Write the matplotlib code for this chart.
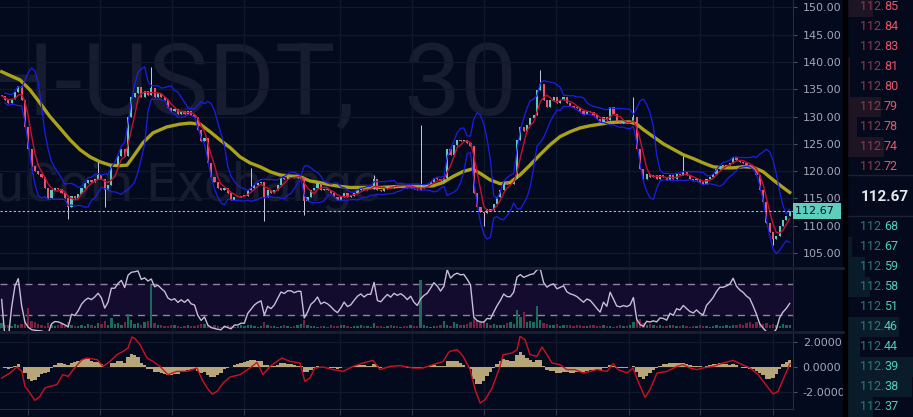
import matplotlib.pyplot as plt
import matplotlib.transforms as mtransforms
from matplotlib.lines import Line2D
from matplotlib.patches import Rectangle
import numpy as np
import pandas as pd

# 30 minute closes from left to right
close_a = [133.8, 133.0, 132.5, 133.2, 134.5, 135.5, 133.0, 128.0, 124.0, 121.0,
           120.0, 119.5, 119.0, 117.0, 115.0, 116.6, 117.0, 116.8, 116.0, 115.0,
           113.5, 115.5, 115.0, 115.8, 117.0, 117.8, 118.3, 118.0, 118.5, 119.2,
           118.5, 116.5, 117.5, 121.0, 121.0, 122.7, 124.0, 122.8, 130.0, 133.5,
           134.3, 135.4, 133.5, 134.7, 134.0, 135.3, 133.6, 134.3, 133.6, 133.0,
           131.5, 131.0, 131.3, 130.5, 131.0, 130.5, 131.0, 130.2, 130.0, 127.5]
close_b = [125.5, 126.0, 121.5, 119.0, 118.0, 117.0, 116.5, 117.0, 116.0, 114.8,
           115.3, 115.3, 115.5, 115.5, 116.5, 117.0, 117.5, 117.8, 118.0, 115.3,
           116.5, 116.0, 116.5, 117.5, 118.7, 118.5, 119.0, 119.0, 118.8, 119.0,
           119.0, 114.5, 115.3, 116.5, 117.0, 117.8, 116.5, 116.8, 116.5, 116.0,
           115.3, 114.8, 115.3, 116.0, 115.3, 115.5, 116.0, 116.5, 116.8, 116.5,
           116.8, 116.8, 118.5, 116.5, 116.3, 116.8, 117.3, 117.0, 117.5, 117.3]
close_c = [117.5, 117.3, 117.0, 117.3, 116.8, 116.5, 117.0, 117.3, 117.5, 118.0,
           118.7, 118.5, 118.2, 118.7, 124.0, 123.0, 124.7, 125.7, 125.5, 125.7,
           125.2, 124.6, 116.0, 113.5, 112.5, 112.3, 113.0, 112.8, 114.0, 115.3,
           116.5, 118.2, 117.6, 117.6, 118.7, 125.7, 128.0, 127.4, 128.5, 129.7,
           130.3, 134.8, 136.0, 133.0, 131.8, 133.0, 133.5, 132.4, 133.0, 133.6,
           132.4, 132.0, 131.8, 131.5, 131.0, 130.5, 131.0, 130.8, 130.2, 129.5]
close_d = [128.8, 130.0, 129.3, 131.7, 130.5, 129.0, 128.8, 129.0, 128.8, 129.0,
           130.0, 124.0, 120.3, 118.5, 119.5, 119.0, 119.2, 118.6, 119.2, 119.0,
           118.3, 119.2, 118.6, 119.5, 119.2, 119.8, 119.2, 118.6, 118.3, 118.6,
           118.0, 117.7, 118.6, 119.0, 119.5, 120.3, 121.0, 121.0, 121.2, 121.5,
           122.6, 122.0, 121.7, 121.5, 121.2, 121.0, 120.3, 119.2, 116.6, 114.3,
           110.5, 108.8, 107.6, 108.2, 110.0, 111.0, 111.7, 112.67]

# long wicks (candle number -> price)
high_spikes = {29: 121.7, 45: 139.0, 75: 120.5, 112: 119.3, 126: 128.5,
               162: 138.5, 190: 133.5, 205: 122.7}
low_spikes = {20: 111.3, 31: 113.5, 79: 110.8, 91: 112.0, 145: 110.0, 232: 106.5}

# volume in thousands
volume_k = [25, 18, 14, 12, 20, 16, 22, 35, 110, 40,
            30, 22, 18, 12, 26, 15, 10, 14, 20, 12,
            35, 18, 12, 10, 14, 12, 20, 16, 12, 28,
            22, 40, 14, 55, 20, 25, 16, 30, 78, 45,
            20, 25, 18, 30, 40, 230, 25, 15, 18, 12,
            10, 14, 18, 12, 8, 10, 16, 12, 10, 14,
            20, 24, 18, 12, 15, 10, 8, 12, 14, 10,
            8, 12, 16, 10, 14, 18, 12, 8, 10, 30,
            15, 10, 12, 8, 10, 14, 12, 8, 10, 16,
            20, 45, 18, 12, 10, 8, 12, 10, 8, 14,
            10, 12, 18, 14, 10, 8, 12, 10, 14, 12,
            10, 8, 25, 12, 10, 8, 10, 14, 12, 10,
            8, 10, 12, 14, 10, 12, 260, 15, 10, 8,
            12, 10, 14, 40, 18, 12, 30, 22, 18, 16,
            20, 35, 60, 45, 30, 40, 25, 18, 20, 15,
            14, 18, 25, 30, 20, 95, 60, 85, 30, 40,
            35, 120, 45, 25, 20, 18, 15, 22, 12, 15,
            18, 14, 12, 15, 18, 10, 12, 14, 16, 12,
            10, 14, 12, 10, 8, 12, 14, 10, 12, 18,
            30, 45, 50, 25, 18, 20, 15, 12, 14, 10,
            12, 15, 18, 10, 12, 14, 10, 8, 12, 10,
            14, 12, 10, 8, 12, 14, 10, 12, 16, 12,
            14, 18, 20, 15, 25, 30, 22, 35, 28, 20,
            25, 18, 22, 15, 12, 20, 14, 18]

# slow moving average (yellow)
slow_ma_idx = [0, 5.5, 8.5, 11.5, 14.5, 17.5, 20.6, 23.6, 26.6, 29.6,
               32.6, 35.6, 37.7, 39.5, 42.5, 45.5, 49.7, 53.6, 56.6, 59.7,
               62.7, 65.7, 68.7, 71.7, 74.7, 77.7, 80.7, 83.7, 86.7, 89.7,
               92.7, 95.7, 98.7, 101.8, 104.8, 107.8, 110.8, 113.8, 116.8, 119.8,
               125.8, 129.7, 132.7, 135.7, 138.7, 141.5, 143.9, 146.9, 149.9, 152.9,
               155.9, 158.9, 161.9, 164.9, 167.9, 170.9, 173.9, 176.9, 180, 183,
               186, 189, 191, 193, 196, 199, 202, 205, 208, 211,
               214, 217, 220, 223, 226, 229, 232, 235, 237]
slow_ma = [138.2, 136.7, 134.9, 132.5, 130.0, 127.9, 125.7, 123.9, 122.6, 121.7,
           121.1, 121.0, 121.1, 122.6, 125.2, 127.0, 128.1, 128.6, 128.8, 128.6,
           127.2, 125.7, 124.3, 122.6, 121.5, 120.8, 119.9, 119.3, 119.1, 119.0,
           118.2, 117.9, 117.5, 117.2, 117.0, 117.0, 117.0, 117.0, 117.1, 117.2,
           117.2, 117.3, 117.9, 119.0, 119.9, 120.4, 119.6, 118.4, 117.7, 117.9,
           119.3, 121.1, 123.0, 124.8, 126.3, 127.2, 127.9, 128.3, 128.6, 128.9,
           129.0, 129.0, 128.6, 127.6, 126.3, 125.0, 124.0, 123.0, 122.3, 121.5,
           120.8, 120.6, 120.6, 120.8, 120.7, 119.9, 118.4, 117.0, 116.1]

# macd line (red)
macd_idx = [0, 2.5, 4.6, 6.1, 7.0, 8.5, 10.0, 11.5, 13.0, 14.5,
            16.6, 18.4, 20.0, 21.5, 24.2, 25.7, 28.7, 30.5, 32.6, 34.7,
            36.5, 38.0, 39.2, 40.1, 41.6, 43.7, 45.5, 47.6, 50.0, 52.7,
            55.7, 58.7, 60.3, 61.8, 63.3, 64.8, 66.6, 68.7, 71.7, 74.7,
            76.8, 78.6, 80.7, 82.8, 84.3, 86.7, 89.7, 91.2, 92.7, 94.2,
            96.6, 99.7, 102.7, 105.7, 108.7, 111.7, 113.8, 116.8, 119.8, 123.7,
            126.7, 129.7, 132.8, 134.3, 134.8, 137.0, 138.8, 140.9, 142.4, 143.9,
            145.4, 147.5, 149.9, 150.8, 153.5, 155.0, 155.9, 157.4, 158.9, 161.0,
            162.5, 164.0, 165.5, 167.9, 170.0, 172.4, 174.9, 177.0, 179.1, 182.1,
            183.9, 185.4, 188.1, 189.9, 191.4, 193.5, 195.0, 197.1, 200.1, 203.1,
            204.9, 207.0, 209.1, 210.9, 214.0, 217.0, 220.0, 222.7, 225.1, 227.5,
            230.2, 232.0, 233.5, 235.0, 237.1]
macd_line = [-0.88, -0.48, 0.0, -0.35, -1.55, -2.08, -2.67, -2.35, -1.68, -1.55,
             -1.41, -0.61, -0.75, -0.21, 0.59, 0.72, 0.59, 0.05, 0.45, 0.99,
             1.25, 1.52, 2.40, 2.27, 1.79, 0.72, 0.45, 0.05, -0.61, -0.35,
             -0.35, -0.08, -1.01, -1.68, -2.16, -1.95, -1.28, -0.80, -0.61, -0.08,
             0.37, -0.61, 0.05, 0.45, 0.72, 0.45, 0.32, -1.15, -0.88, -0.08,
             0.0, -0.21, -0.35, 0.05, 0.32, 0.53, -0.21, 0.05, 0.11, -0.08,
             -0.08, 0.19, 0.45, 1.12, 1.25, 1.39, 0.85, -0.21, -1.81, -2.88,
             -2.61, -1.68, 0.05, 0.99, 1.12, 1.39, 2.45, 2.19, 0.99, 0.85,
             1.60, 0.99, 0.32, 0.19, -0.21, -0.21, -0.48, -0.35, -0.21, -0.35,
             0.27, -0.21, -0.48, -0.08, -1.15, -2.43, -1.81, -0.48, -0.35, 0.05,
             0.19, -0.08, -0.21, -0.08, 0.05, 0.32, 0.53, 0.19, -0.08, -0.61,
             -1.55, -2.16, -1.95, -1.01, 0.27]

price_ticks = [105, 110, 115, 120, 125, 130, 135, 140, 145, 150]
time_ticks = [7.9, 29.6, 51.2, 72.9, 101.8, 123.4, 145.1, 166.7, 188.7, 210, 232]
last_price = 112.67

ask_prices = ["112.85", "112.84", "112.83", "112.81", "112.80", "112.79", "112.78", "112.74", "112.72"]
ask_depth = [0.39, 0, 0, 0.05, 0.05, 0.52, 0.15, 0.56, 0]
bid_prices = ["112.68", "112.67", "112.59", "112.58", "112.51", "112.46", "112.44", "112.39", "112.38", "112.37"]
bid_depth = [0, 0.08, 0.28, 0.35, 0, 0.79, 0.2, 1.0, 0.98, 0.4]

BG = '#030a1e'
GRID = '#12182c'
LABEL = '#a3a7b4'
MARK = '#171c31'
W, H = 913, 417


def box(x0, y0, x1, y1):
    return [x0 / W, 1 - y1 / H, (x1 - x0) / W, (y1 - y0) / H]


def style(ax):
    ax.set_facecolor(BG)
    for s in ['top', 'left', 'bottom']:
        ax.spines[s].set_visible(False)
    ax.spines['right'].set_color('#262c3e')
    ax.yaxis.tick_right()
    ax.tick_params(axis='y', colors='#4a5062', labelcolor=LABEL, labelsize=8, length=3, pad=4)
    ax.tick_params(axis='x', length=0, labelbottom=False)
    ax.set_xticks(time_ticks)
    ax.set_xlim(-0.5, 238)
    ax.grid(True, color=GRID, lw=1)
    ax.set_axisbelow(True)


def main():
    closes = np.array(close_a + close_b + close_c + close_d)
    n = len(closes)
    idx = np.arange(n)
    opens = np.concatenate([[closes[0]], closes[:-1]])
    highs = np.maximum(opens, closes)
    lows = np.minimum(opens, closes)
    for i, v in high_spikes.items():
        highs[i] = v
    for i, v in low_spikes.items():
        lows[i] = v
    up = closes >= opens

    s = pd.Series(closes)
    fast_ma = s.rolling(4, min_periods=1).mean()
    mid = s.rolling(7, min_periods=2).mean()
    sd = s.rolling(7, min_periods=2).std()
    upper = mid + 1.6 * sd
    lower = mid - 1.6 * sd

    delta = s.diff().fillna(0)
    gain = delta.clip(lower=0).ewm(alpha=1 / 8, adjust=False).mean()
    loss = (-delta.clip(upper=0)).ewm(alpha=1 / 8, adjust=False).mean()
    rsi = 100 - 100 / (1 + gain / loss.replace(0, np.nan))
    rsi = rsi.fillna(50)

    macd = s.ewm(span=6, adjust=False).mean() - s.ewm(span=13, adjust=False).mean()
    hist = macd - macd.ewm(span=4, adjust=False).mean()

    fig = plt.figure(figsize=(W / 100, H / 100), dpi=100, facecolor=BG)

    # price panel
    ax = fig.add_axes(box(0, 0, 793, 267))
    style(ax)
    ax.set_ylim(102.44, 151.34)
    ax.set_yticks(price_ticks)
    ax.set_yticklabels(['%.2f' % p for p in price_ticks])

    # watermark: symbol, interval, exchange
    ax.text(356 / W, 1 - 115 / H, 'ETH-USDT,', transform=fig.transFigure, ha='right',
            va='baseline', fontsize=73, family='Roboto', color=MARK,
            zorder=0.5, clip_on=False)
    ax.text(517 / W, 1 - 115 / H, '30', transform=fig.transFigure, ha='right',
            va='baseline', fontsize=73, family='Roboto', color=MARK,
            zorder=0.5, clip_on=False)
    ax.text(-40 / W, 1 - 200 / H, 'KuCoin Exchange', transform=fig.transFigure, ha='left',
            va='baseline', fontsize=39, family='Roboto', color=MARK,
            zorder=0.5, clip_on=False)

    ax.plot(slow_ma_idx, slow_ma, color='#bcb41a', lw=2.4, alpha=0.9, zorder=3)
    ax.vlines(idx, lows, highs, color='#c9ccd8', lw=0.7, zorder=4)
    ax.bar(idx, np.maximum(np.abs(closes - opens), 0.15), bottom=np.minimum(opens, closes),
           width=0.65, color=np.where(up, '#5ccbbb', '#e8566e'), zorder=5)
    ax.plot(idx, fast_ma, color='#c8102c', lw=1, zorder=6)
    ax.plot(idx, upper, color='#1d1de8', lw=0.9, zorder=6)
    ax.plot(idx, lower, color='#1d1de8', lw=0.9, zorder=6)
    ax.axhline(last_price, color='#72d8ca', lw=0.8, ls=(0, (2, 2)), zorder=7)
    tag = mtransforms.blended_transform_factory(ax.transAxes, ax.transData)
    ax.text(1.003, last_price, '112.67 ', transform=tag, ha='left', va='center', fontsize=8,
            color='#081020', clip_on=False, zorder=8,
            bbox=dict(boxstyle='square,pad=0.25', fc='#5dd0bd', ec='none'))

    # volume + oscillator panel
    ax_v = fig.add_axes(box(0, 268, 793, 331))
    style(ax_v)
    ax_v.set_ylim(-16, 324)
    ax_v.set_yticks([0, 200])
    ax_v.set_yticklabels(['0', '200K'])
    ax_v.grid(False)
    ax_v.grid(True, axis='x', color=GRID, lw=1)
    ax_r = ax_v.twinx()
    ax_r.set_ylim(9.4, 90.6)
    ax_r.set_xlim(-0.5, 238)
    ax_r.set_yticks([])
    for sp in ax_r.spines.values():
        sp.set_visible(False)
    ax_r.axhspan(30, 70, color='#140c2e', zorder=0)
    ax_r.axhline(70, color='#8c8498', lw=1, ls=(0, (5, 4)), zorder=1)
    ax_r.axhline(30, color='#8c8498', lw=1, ls=(0, (5, 4)), zorder=1)
    vol_tr = mtransforms.blended_transform_factory(ax_r.transData, ax_v.transData)
    ax_r.bar(idx, volume_k, width=0.7, color=np.where(up, '#1e6a58', '#7a2042'),
             transform=vol_tr, zorder=2)
    ax_r.plot(idx, rsi, color='#c9bcd8', lw=1, zorder=3)

    # macd panel
    ax_m = fig.add_axes(box(0, 333, 793, 409))
    style(ax_m)
    ax_m.set_ylim(-3.36, 2.72)
    ax_m.set_yticks([-2, 0, 2])
    ax_m.set_yticklabels(['-2.0000', '0.0000', '2.0000'])
    ax_m.spines['bottom'].set_visible(True)
    ax_m.spines['bottom'].set_color('#262c3e')
    ax_m.tick_params(axis='x', length=4, color='#30364a', direction='out')
    ax_m.bar(idx, hist, width=1.0, color='#b7a679', zorder=2)
    ax_m.plot(macd_idx, macd_line, color='#d0101e', lw=1, zorder=3)

    # panel separators
    for y in [267.5, 332]:
        fig.add_artist(Line2D([0, 843 / W], [1 - y / H, 1 - y / H], color='#1a2032', lw=2,
                              transform=fig.transFigure))
    fig.add_artist(Rectangle((843 / W, 0), 4 / W, 1, transform=fig.transFigure,
                             color='#000000', zorder=1))

    # order book
    ax_ob = fig.add_axes(box(847, 0, 913, 417))
    ax_ob.set_facecolor('#040a1b')
    ax_ob.set_xlim(0, 1)
    ax_ob.set_ylim(20.5, -0.35)
    ax_ob.axis('off')
    ax_ob.add_patch(Rectangle((0, -0.35), 1, 20.85, color='#040a1b', zorder=0))
    ask_rows = np.arange(len(ask_prices))
    bid_rows = np.arange(len(bid_prices)) + 11
    ax_ob.barh(ask_rows, ask_depth, height=1.0, left=0, color='#1d1424', zorder=1)
    ax_ob.barh(bid_rows, bid_depth, height=1.0, left=0, color='#0a1c29', zorder=1)
    for r, p in zip(ask_rows, ask_prices):
        ax_ob.text(0.56, r, p[:4], ha='right', va='center', fontsize=9, family='Roboto', color='#8a3a4c')
        ax_ob.text(0.56, r, p[4:], ha='left', va='center', fontsize=9, family='Roboto', color='#e4576a')
    for r, p in zip(bid_rows, bid_prices):
        ax_ob.text(0.56, r, p[:4], ha='right', va='center', fontsize=9, family='Roboto', color='#2a7a72')
        ax_ob.text(0.56, r, p[4:], ha='left', va='center', fontsize=9, family='Roboto', color='#4ecdb8')
    ax_ob.text(0.57, 9.5, '%.2f' % last_price, ha='center', va='center', fontsize=11,
               family='Roboto', weight='bold', color='#e6e7ee')
    for r in [8.4, 10.45]:
        ax_ob.axhline(r, color='#1c2234', lw=1)

    plt.savefig('out.png', dpi=100, facecolor=BG)


if __name__ == "__main__":
    main()
